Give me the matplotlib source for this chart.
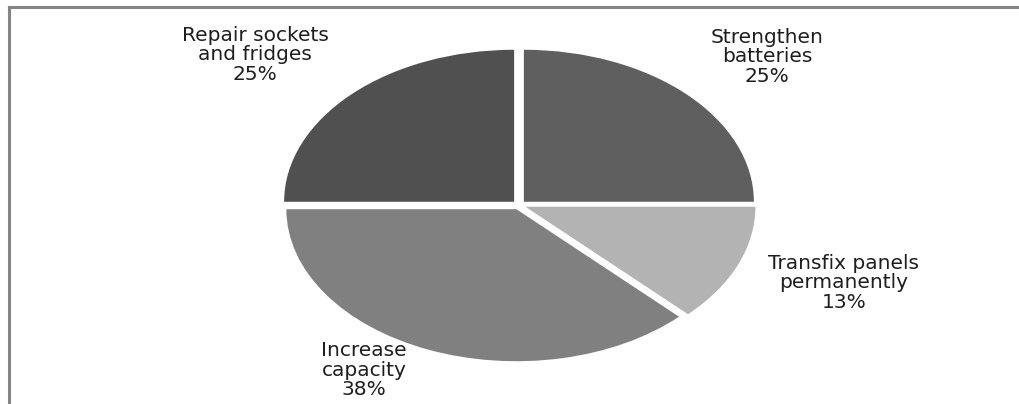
import math

import matplotlib
matplotlib.use("Agg")
import matplotlib.pyplot as plt
from matplotlib.lines import Line2D

# Slices, clockwise from 12 o'clock
labels = ["Strengthen\nbatteries", "Transfix panels\npermanently",
          "Increase\ncapacity", "Repair sockets\nand fridges"]
values = [2, 1, 3, 2]
colors = ["#5f5f5f", "#b3b3b3", "#808080", "#505050"]

# label centres in pie units (radius = 1)
label_pos = [(1.078, 0.974), (1.413, -0.513), (-0.674, -1.086), (-1.148, 0.987)]

plt.rcParams["font.family"] = ["DejaVu Sans"]

W, H = 1020, 404
fig = plt.figure(figsize=(W / 100, H / 100), dpi=100)
ax = fig.add_axes([0, 0, 1, 1])

ax.pie(values, colors=colors, startangle=90, counterclock=False,
       explode=[0.03] * len(values),
       wedgeprops=dict(linewidth=0))

# stretched ellipse: centre at (519, 205) px, radii 230 x 152 px
cx, cy, rx, ry = 519, 205, 230, 152
ax.set_aspect("auto")
ax.set_xlim(-cx / rx, (W - cx) / rx)
ax.set_ylim(-(H - cy) / ry, cy / ry)
ax.axis("off")

total = sum(values)
for lab, v, (x, y) in zip(labels, values, label_pos):
    pct = math.floor(v / total * 100 + 0.5)
    ax.text(x, y, f"{lab}\n{pct}%", ha="center", va="center",
            fontsize=14.5, color="#1e1e1e", linespacing=1.04)

# chart area border (left and top edges visible)
fig.add_artist(Line2D([9.5 / W, 9.5 / W], [0, 1 - 7 / H], transform=fig.transFigure,
                      color="#858585", linewidth=2.2))
fig.add_artist(Line2D([9.5 / W, 1], [1 - 7 / H, 1 - 7 / H], transform=fig.transFigure,
                      color="#858585", linewidth=2.2))

fig.savefig("out.png", dpi=100, facecolor="white")
